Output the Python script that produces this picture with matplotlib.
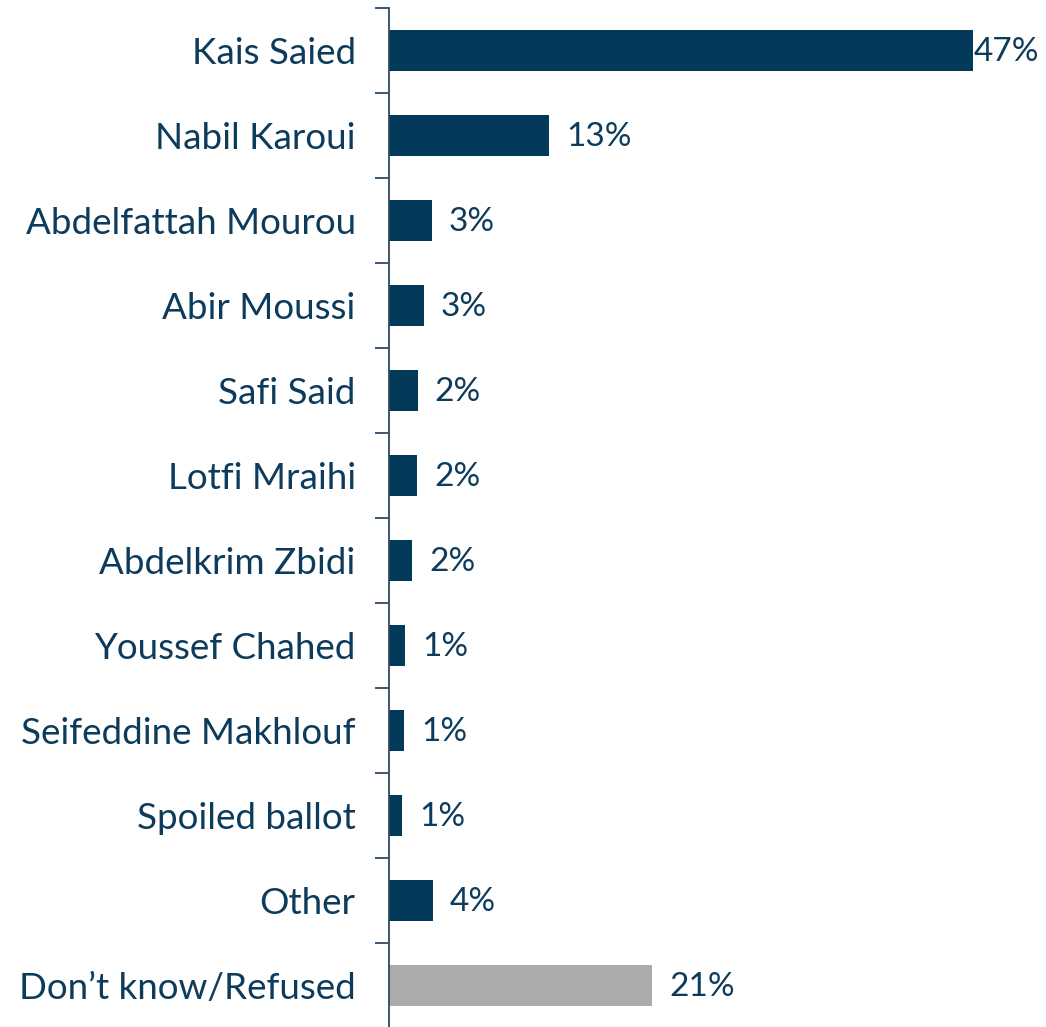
import matplotlib
matplotlib.use("Agg")
import matplotlib.pyplot as plt

categories = ["Kais Saied", "Nabil Karoui", "Abdelfattah Mourou", "Abir Moussi",
              "Safi Said", "Lotfi Mraihi", "Abdelkrim Zbidi", "Youssef Chahed",
              "Seifeddine Makhlouf", "Spoiled ballot", "Other", "Don\u2019t know/Refused"]
values = [47.0, 12.9, 3.45, 2.8, 2.3, 2.25, 1.85, 1.3, 1.2, 1.05, 3.55, 21.2]
labels = ["47%", "13%", "3%", "3%", "2%", "2%", "2%", "1%", "1%", "1%", "4%", "21%"]

navy = "#033A5A"
gray = "#ABABAB"
text_color = "#0D3B5C"
colors = [navy] * 11 + [gray]

W, H = 1046, 1027
fig = plt.figure(figsize=(W / 100, H / 100), dpi=100)
ax_left, ax_right = 389 / W, 1.0
ax_top, ax_bottom = 1 - 8 / H, 1 - 1028 / H
ax = fig.add_axes([ax_left, ax_bottom, ax_right - ax_left, ax_top - ax_bottom])

n = len(categories)
ypos = list(range(n))
ax.barh(ypos, values, height=0.48, color=colors)
ax.set_ylim(n - 0.5, -0.5)
px_per_unit = 584 / 47.0
ax.set_xlim(0, (W - 389) / px_per_unit)

ax.set_yticks([i - 0.5 for i in range(n + 1)], minor=False)
ax.set_yticklabels([])
ax.set_yticks(ypos, minor=True)
ax.set_yticklabels(categories, minor=True)
ax.tick_params(axis="y", which="major", length=10, width=1.3, color="#2E4A66", direction="out")
ax.tick_params(axis="y", which="minor", length=0, pad=24, labelsize=26.5, labelcolor=text_color)
for t in ax.get_yticklabels(minor=True):
    t.set_fontfamily("Lato")

ax.set_xticks([])
for s in ["top", "right", "bottom"]:
    ax.spines[s].set_visible(False)
ax.spines["left"].set_color("#2E4A66")
ax.spines["left"].set_linewidth(1.3)

for i, (v, lab) in enumerate(zip(values, labels)):
    off = 17 if v < 40 else 1
    ax.annotate(lab, (v, i), xytext=(off * 0.72, -1), textcoords="offset points",
                va="center", ha="left", fontsize=24, color=text_color, family="Lato",
                annotation_clip=False)

fig.savefig("out.png", dpi=100)
